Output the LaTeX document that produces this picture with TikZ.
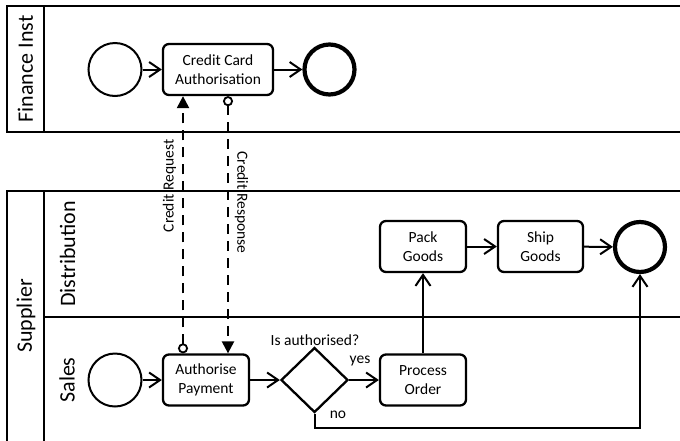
\documentclass[tikz,border=0pt]{standalone}
\usepackage{fontspec}
\setmainfont{Carlito}
\usetikzlibrary{arrows.meta,shapes.geometric}
\begin{document}
\begin{tikzpicture}[x=1pt,y=-1pt,
  txt/.style={font=\fontsize{15.5}{19}\selectfont, align=center},
  bigtxt/.style={font=\fontsize{22}{26}\selectfont},
  pool/.style={line width=2pt},
  startev/.style={circle, draw, line width=2pt, minimum size=53pt, inner sep=0pt},
  endev/.style={circle, draw, line width=4.2pt, minimum size=50pt, inner sep=0pt},
  task/.style={rectangle, rounded corners=6pt, draw, line width=2.3pt, inner sep=0pt, txt, minimum height=51pt},
  gate/.style={diamond, draw, line width=2.3pt, minimum width=67pt, minimum height=65pt, inner sep=0pt},
  seq/.style={line width=2pt, -{Straight Barb[length=11pt,width=15pt,line width=2pt]}},
  msg/.style={line width=2.3pt, dash pattern=on 10pt off 7pt,
    {Circle[open,length=10pt,width=10pt,line width=1.8pt,fill=white]}-{Triangle[length=12pt,width=12pt]}}
]
\useasboundingbox (0,0) rectangle (680,440);
\clip (0,0) rectangle (680,440);
% pools
\draw[pool] (7,6) rectangle (700,132);
\draw[pool] (44,6) -- (44,132);
\draw[pool] (7,191) rectangle (700,442);
\draw[pool] (44,191) -- (44,442);
\draw[pool] (44,317) -- (700,317);
\node[bigtxt, rotate=90] (lfin) at (25.5,69) {Finance Inst};
\node[bigtxt, rotate=90] (lsup) at (26,316) {Supplier};
\node[bigtxt, rotate=90] (ldis) at (67.5,254) {Distribution};
\node[bigtxt, rotate=90] (lsal) at (67,380) {Sales};
% finance
\node[startev] (fs) at (115,69.5) {};
\node[task, minimum width=110pt] (cc) at (218,69.5) {Credit Card\\Authorisation};
\node[endev] (fe) at (329.5,69.5) {};
\draw[seq] (fs) -- (cc);
\draw[seq] (cc) -- (fe);
% sales
\node[startev] (ss) at (115,380) {};
\node[task, minimum width=86pt] (ap) at (206,380) {Authorise\\Payment};
\node[gate] (gw) at (314.5,380) {};
\node[task, minimum width=86pt] (po) at (423,380) {Process\\Order};
% distribution
\node[task, minimum width=86pt] (pg) at (423,246.5) {Pack\\Goods};
\node[task, minimum width=85pt] (sg) at (540.5,246.5) {Ship\\Goods};
\node[endev] (se) at (640,247) {};
\coordinate (nob) at (0,428);
\draw[seq] (ss) -- (ap);
\draw[seq] (ap) -- (gw);
\draw[seq] (gw.east) -- (po);
\draw[seq] (po) -- (pg);
\draw[seq] (pg) -- (sg);
\draw[seq] (sg) -- (se);
\draw[seq] (gw.south) -- (gw.south |- nob) -| (se.south);
\node[txt] (qa) at (315,340) {Is authorised?};
\node[txt] (yes) at (360,361) {yes};
\node[txt] (no) at (338,415) {no};
% message flows
\draw[msg] ([xshift=-23pt]ap.north) -- ([xshift=-23pt]ap.north |- cc.south);
\draw[msg] ([xshift=10pt]cc.south) -- ([xshift=10pt]cc.south |- ap.north);
\node[txt, rotate=90] (creq) at (169.5,186) {Credit Request};
\node[txt, rotate=-90] (cres) at (241.5,202.5) {Credit Response};
\end{tikzpicture}
\end{document}
